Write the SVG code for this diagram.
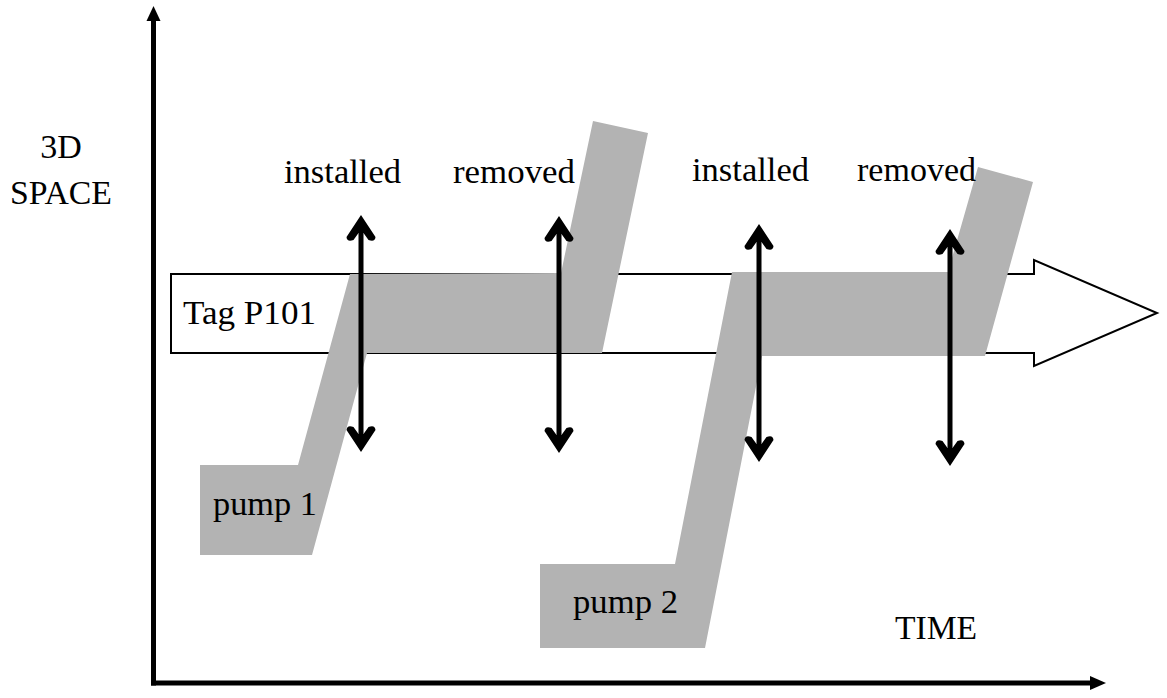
<svg xmlns="http://www.w3.org/2000/svg" width="1167" height="698" viewBox="0 0 1167 698">
<style>
text{font-family:"Liberation Serif","Times New Roman",serif;font-size:34px;fill:#000}
.band{fill:#b3b3b3;stroke:none}
.axis{stroke:#000;stroke-width:5;fill:none}
.ev{stroke:#000;stroke-width:5;fill:none;marker-start:url(#hd);marker-end:url(#hd)}
</style>
<defs>
<marker id="hd" markerUnits="userSpaceOnUse" markerWidth="40" markerHeight="40" refX="0" refY="0" viewBox="-20 -20 40 40" orient="auto-start-reverse" overflow="visible">
<path d="M10,0 L-12,-14.5 Q-17.5,-14 -15,-7.5 L-8,-2.5 L-8,2.5 L-15,7.5 Q-17.5,14 -12,14.5 Z" fill="#000"/>
</marker>
</defs>
<rect width="1167" height="698" fill="#fff"/>
<g id="axes">
<line class="axis" x1="153.5" y1="685.5" x2="153.5" y2="18"/>
<polygon points="153.5,6 146.5,21 160.5,21" fill="#000"/>
<line class="axis" x1="151" y1="683" x2="1094" y2="683"/>
<polygon points="1106,683 1090,676 1090,690" fill="#000"/>
<text x="61" y="158" text-anchor="middle">3D</text>
<text x="61" y="204" text-anchor="middle" textLength="102" lengthAdjust="spacingAndGlyphs">SPACE</text>
<text x="895" y="639" textLength="82" lengthAdjust="spacingAndGlyphs">TIME</text>
</g>
<g id="tag">
<polygon points="171,274 1034,274 1034,260 1157,313 1034,366 1034,353 171,353" fill="#fff" stroke="#000" stroke-width="2"/>
<text x="183" y="324" textLength="133" lengthAdjust="spacingAndGlyphs">Tag P101</text>
</g>
<g id="pump1">
<polygon class="band" points="200,555 200,465 298,465 350,274 561,273 593,121 648,133 602,353 367,353 312,555"/>
<text x="213" y="515" textLength="104" lengthAdjust="spacingAndGlyphs">pump 1</text>
</g>
<g id="pump2">
<polygon class="band" points="540,648 540,564 675,564 732,272 948,272 978,167 1033,182 985,356 762,356 705,648"/>
<text x="573" y="613" textLength="105" lengthAdjust="spacingAndGlyphs">pump 2</text>
</g>
<g id="connectors">
<line class="ev" x1="361" y1="225" x2="361" y2="442"/>
<line class="ev" x1="559" y1="226" x2="559" y2="443"/>
<line class="ev" x1="759" y1="234" x2="759" y2="452"/>
<line class="ev" x1="950" y1="239" x2="950" y2="456"/>
</g>
<g id="labels">
<text x="284" y="183" textLength="117" lengthAdjust="spacingAndGlyphs">installed</text>
<text x="453" y="183" textLength="122" lengthAdjust="spacingAndGlyphs">removed</text>
<text x="692" y="181" textLength="117" lengthAdjust="spacingAndGlyphs">installed</text>
<text x="857" y="181" textLength="119" lengthAdjust="spacingAndGlyphs">removed</text>
</g>
</svg>
